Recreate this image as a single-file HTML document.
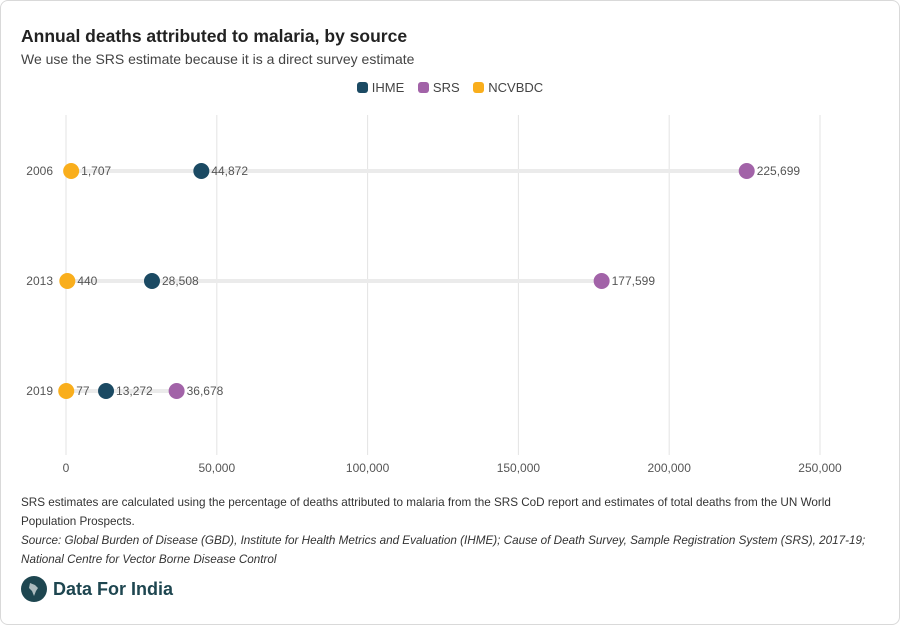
<!DOCTYPE html>
<html><head><meta charset="utf-8">
<style>
body{margin:0;background:#fff;font-family:"Liberation Sans",sans-serif;}
.card{position:absolute;left:0;top:0;width:898px;height:623px;border:1px solid #d9d9d9;border-radius:8px;background:#fff;}
.title{position:absolute;left:21px;top:26px;font-size:17.5px;font-weight:bold;color:#222;}
.sub{position:absolute;left:21px;top:51px;font-size:14px;color:#444;}
.legend{position:absolute;left:0;width:900px;top:80px;text-align:center;font-size:13px;color:#444;}
.legend span.item{margin:0 5px;}
.sw{display:inline-block;width:11px;height:11px;border-radius:3px;vertical-align:-1px;margin-right:4px;}
.note{position:absolute;left:21px;top:493px;width:866px;font-size:11.7px;line-height:19px;color:#333;}
.src{font-style:italic;}
.logo{position:absolute;left:21px;top:576px;font-size:18px;font-weight:bold;color:#1e4650;}
</style></head><body>
<div class="card"></div>
<div class="title">Annual deaths attributed to malaria, by source</div>
<div class="sub">We use the SRS estimate because it is a direct survey estimate</div>
<div class="legend">
<span class="item"><span class="sw" style="background:#1b4a63"></span>IHME</span>
<span class="item"><span class="sw" style="background:#a263a8"></span>SRS</span>
<span class="item"><span class="sw" style="background:#f9ae1c"></span>NCVBDC</span>
</div>
<svg id="chart" width="900" height="625" style="position:absolute;left:0;top:0"></svg>
<div class="note">SRS estimates are calculated using the percentage of deaths attributed to malaria from the SRS CoD report and estimates of total deaths from the UN World Population Prospects.<br><span class="src">Source: Global Burden of Disease (GBD), Institute for Health Metrics and Evaluation (IHME); Cause of Death Survey, Sample Registration System (SRS), 2017-19; National Centre for Vector Borne Disease Control</span></div>
<div class="logo"><svg width="26" height="26" style="vertical-align:-7px;margin-right:6px"><circle cx="13" cy="13" r="13" fill="#1e4650"/><path d="M9 7 L14 9 L17 12 L15 15 L13 20 L11 15 L8 12 Z" fill="#cfd8da" opacity="0.8"/></svg>Data For India</div>
<script>
const years=["2006","2013","2019"];
const ihme=[44872,28508,13272];
const srs=[225699,177599,36678];
const ncvbdc=[1707,440,77];
const ticks=[0,50000,100000,150000,200000,250000];
const NS="http://www.w3.org/2000/svg";
const svg=document.getElementById("chart");
const x=v=>66+v*(754/250000);
const y=i=>171+i*110;
function mk(t,a){const e=document.createElementNS(NS,t);for(const k in a)e.setAttribute(k,a[k]);svg.appendChild(e);return e;}
ticks.forEach(t=>{
 const l=mk("line",{x1:x(t),x2:x(t),y1:115,y2:455,stroke:"#e3e3e3","stroke-width":1});
 
 
 const tx=mk("text",{x:x(t),y:472,"text-anchor":"middle","font-size":12,fill:"#555","font-family":"Liberation Sans, sans-serif"});
 tx.textContent=t.toLocaleString("en-US");
 
 
});
const fmt=v=>v.toLocaleString("en-US");
years.forEach((yr,i)=>{
 const yy=y(i);
 const lab=mk("text",{x:53,y:yy+4,"text-anchor":"end","font-size":12,fill:"#555","font-family":"Liberation Sans, sans-serif"});
 lab.textContent=yr;
 
 
 const mx=Math.max(ihme[i],srs[i],ncvbdc[i]);
 const c=mk("line",{x1:x(0),x2:x(mx),y1:yy,y2:yy,stroke:"#ebebeb","stroke-width":4});
 
 
 [[ncvbdc,"#f9ae1c","ncvbdc"],[ihme,"#1b4a63","ihme"],[srs,"#a263a8","srs"]].forEach(([arr,col,nm])=>{
  const d=mk("circle",{cx:x(arr[i]),cy:yy,r:8,fill:col});
  
  
  const t=mk("text",{x:x(arr[i])+10,y:yy+4,"font-size":12,fill:"#555","font-family":"Liberation Sans, sans-serif"});
  t.textContent=fmt(arr[i]);
  
  
 });
});
</script>
</body></html>
